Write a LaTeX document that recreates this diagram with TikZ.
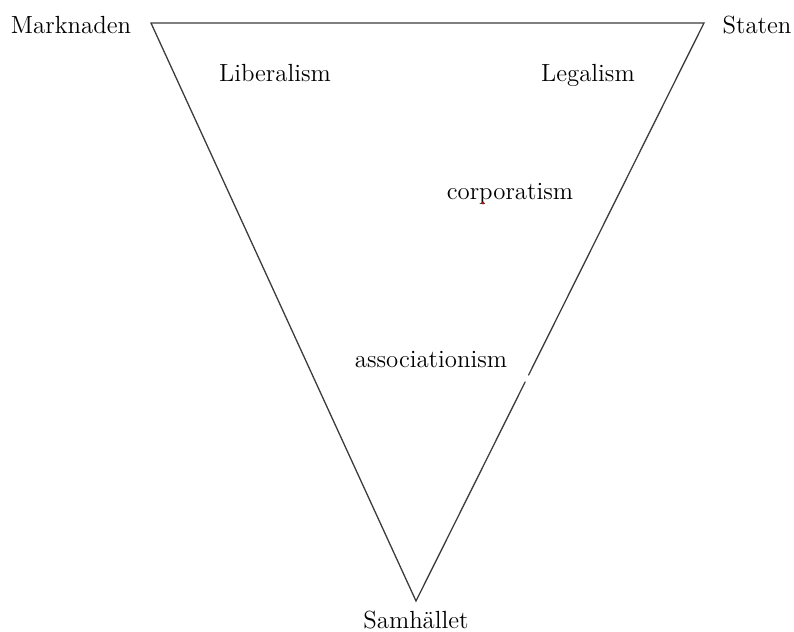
\documentclass[tikz,border=0pt]{standalone}
\usepackage{tikz}
\usetikzlibrary{calc}
\definecolor{edgegrey}{RGB}{60,60,60}
\definecolor{dotred}{RGB}{170,20,20}
\tikzset{
  pole/.style={font=\fontsize{12.4}{14}\selectfont, inner sep=0pt, anchor=base},
  ideology/.style={font=\fontsize{12.4}{14}\selectfont, inner sep=0pt, anchor=base},
  side/.style={draw=edgegrey, line width=0.65pt, line cap=round, line join=miter},
}
\begin{document}
\begin{tikzpicture}[x=0.5pt, y=-0.5pt]
  \useasboundingbox (0,0) rectangle (794,632);
  % corners of the triangle
  \coordinate (market) at (151,23);
  \coordinate (state) at (704,23);
  \coordinate (society) at (416,601);
  \coordinate (gaptop) at ($(state)!0.609!(society)$);
  \coordinate (gapbot) at ($(state)!0.621!(society)$);

  \node[pole] (marknaden) at (71,33) {Marknaden};
  \node[pole] (staten) at (757,33) {Staten};
  \node[pole] (samhallet) at (416,628) {Samhället};

  \node[ideology] (liberalism) at (275,81) {Liberalism};
  \node[ideology] (legalism) at (588,81) {Legalism};
  \node[ideology] (corporatism) at (510,199) {corporatism};
  \node[ideology] (associationism) at (431,367) {associationism};
  \fill[dotred] (483,203) circle (1.6);

  \draw[side] (market) -- (state) -- (gaptop);
  \draw[side] (gapbot) -- (society) -- (market);
\end{tikzpicture}
\end{document}
